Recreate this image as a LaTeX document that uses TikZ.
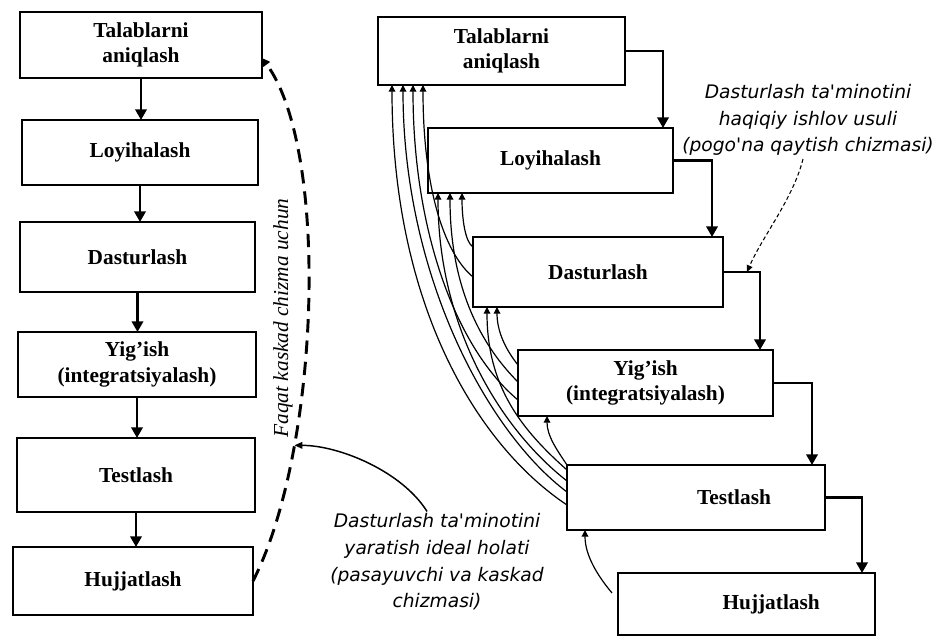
\documentclass[tikz,border=0pt]{standalone}
\usepackage{fontspec}
\setmainfont{Liberation Serif}
\newfontfamily\annfont{DejaVu Sans}
\usetikzlibrary{arrows.meta,calc}

\begin{document}
\begin{tikzpicture}[x=0.75pt,y=-0.75pt,
  stage/.style={draw, line width=2pt, rectangle, inner sep=0pt, outer sep=0pt,
    align=center, font=\bfseries\fontsize{16pt}{19pt}\selectfont},
  dims/.style 2 args={minimum width=#1*0.75pt, minimum height=#2*0.75pt},
  flow/.style={line width=1.9pt, -{Triangle[length=8pt,width=8.5pt]}},
  fb/.style={line width=0.9pt, -{Triangle[length=5pt,width=5pt]}},
  note/.style={font=\annfont\itshape\fontsize{14pt}{20pt}\selectfont,
    align=center, inner sep=0pt},
]
\fill[white] (0,0) rectangle (944,639);
\useasboundingbox (0,0) rectangle (944,639);

% ---- cascade (waterfall) column ----
\node[stage, dims={242}{66}] (L1) at (141,45)    {Talablarni\\aniqlash};
\node[stage, dims={236}{65}] (L2) at (140,152.5) {Loyihalash};
\node[stage, dims={235}{70}] (L3) at (137.5,257) {Dasturlash};
\node[stage, dims={238}{65}] (L4) at (137,364.5) {Yig'ish\\(integratsiyalash)};
\node[stage, dims={238}{74}] (L5) at (136,475)   {Testlash};
\node[stage, dims={240}{68}] (L6) at (133,581)   {Hujjatlash};

\foreach \a/\b in {L1/L2,L2/L3,L3/L4,L4/L5,L5/L6}
  \draw[flow] (\a.south) -- (\a.south |- \b.north);

% dashed return path of the pure cascade
\draw[line width=2.2pt, dash pattern=on 10pt off 6pt,
      -{Triangle[length=6pt,width=6pt]}]
  (L6.east) .. controls (320,450) and (330,150) .. ($(L1.south east)+(0,-20)$)
  coordinate[pos=0.27] (hit);

\node[font=\itshape\fontsize{16pt}{19pt}\selectfont, rotate=90, inner sep=0pt]
  (only) at (283,318) {Faqat kaskad chizma uchun};

\node[note] (ideal) at (437,562)
  {Dasturlash ta'minotini\\yaratish ideal holati\\(pasayuvchi va kaskad\\chizmasi)};
\draw[line width=1.1pt, -{Triangle[length=6pt,width=5pt]}]
  ($(ideal.north)+(-10,-2)$) .. controls +(-25,-40) and +(45,0) .. (hit);

% ---- stepwise (iterative) column ----
\node[stage, dims={247}{68}] (R1) at (501.5,51)  {Talablarni\\aniqlash};
\node[stage, dims={245}{65}] (R2) at (550.5,160.5) {Loyihalash};
\node[stage, dims={250}{70}] (R3) at (598,272)   {Dasturlash};
\node[stage, dims={255}{66}] (R4) at (645.5,383) {Yig'ish\\(integratsiyalash)};
\node[stage, dims={258}{65}] (R5) at (696,497.5) {\hspace*{57pt}Testlash};
\node[stage, dims={257}{62}] (R6) at (746.5,604) {\hspace*{37pt}Hujjatlash};

\draw[flow] (R1.east) -| ($(R2.north east)+(-10,0)$);
\draw[flow] (R2.east) -| ($(R3.north east)+(-11,0)$);
\draw[flow] (R3.east) -| ($(R4.north east)+(-13,0)$);
\draw[flow] (R4.east) -| ($(R5.north east)+(-13,0)$);
\draw[flow] (R5.east) -| ($(R6.north east)+(-13,0)$);

% feedback returns to earlier stages
\draw[fb] ($(R3.north west)+(0,10)$) .. controls +(-8,-5)   and +(0,25)  .. ($(R2.south west)+(34,0)$);
\draw[fb] ($(R3.north west)+(0,40)$) .. controls +(-30,-25) and +(0,100) .. ($(R1.south west)+(45,0)$);
\draw[fb] ($(R4.north west)+(0,15)$) .. controls +(-12,-15) and +(0,25)  .. ($(R3.south west)+(24,0)$);
\draw[fb] ($(R4.north west)+(0,32)$) .. controls +(-40,-40) and +(0,90)  .. ($(R2.south west)+(22,0)$);
\draw[fb] ($(R4.north west)+(0,50)$) .. controls +(-60,-50) and +(0,150) .. ($(R1.south west)+(35,0)$);
\draw[fb] (R5.north west)            .. controls +(-10,-15) and +(0,20)  .. ($(R4.south west)+(29,0)$);
\draw[fb] ($(R5.north west)+(0,5)$)  .. controls +(-45,-40) and +(0,80)  .. ($(R3.south west)+(14,0)$);
\draw[fb] ($(R5.north west)+(0,16)$) .. controls +(-70,-55) and +(0,130) .. ($(R2.south west)+(10,0)$);
\draw[fb] ($(R5.north west)+(0,27)$) .. controls +(-80,-60) and +(0,190) .. ($(R1.south west)+(25,0)$);
\draw[fb] ($(R5.north west)+(0,40)$) .. controls +(-90,-60) and +(0,220) .. ($(R1.south west)+(14,0)$);
\draw[fb] ($(R6.north west)+(-6,20)$) .. controls +(-15,-18) and +(0,25) .. ($(R5.south west)+(18,0)$);

\coordinate (tap) at ($(R3.east)+(24,0)$);
\node[note] (real) at (808,120)
  {Dasturlash ta'minotini\\haqiqiy ishlov usuli\\(pogo'na qaytish chizmasi)};
\draw[line width=0.8pt, dash pattern=on 3pt off 2pt, -{Triangle[length=5pt,width=4.5pt]}]
  ($(real.south)+(-5,3)$) .. controls +(-10,40) and +(15,-35) .. (tap);
\end{tikzpicture}
\end{document}
